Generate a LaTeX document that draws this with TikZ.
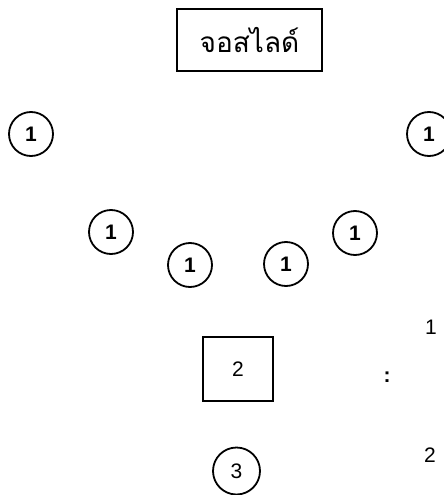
\documentclass[tikz,border=0pt]{standalone}
\usepackage{fontspec}
\setmainfont{Liberation Sans}
\newfontfamily\thaifont[Script=Thai]{Loma}
\begin{document}
\begin{tikzpicture}[x=1pt,y=-1pt,
  seat/.style={circle,draw,line width=1.8pt,minimum size=44pt,inner sep=0pt,font=\fontsize{21}{21}\selectfont\bfseries},
  lbl/.style={inner sep=0pt,font=\fontsize{21}{21}\selectfont}]
\useasboundingbox (0,0) rectangle (444,495);
\clip (0,0) rectangle (444,495);
\node[draw,line width=1.9pt,minimum width=145pt,minimum height=62pt,inner sep=0pt] (screen) at (249.5,40) {\thaifont\fontsize{28}{28}\selectfont จอสไลด์};
\node[seat] (s1) at (31,134) {1};
\node[seat] (s2) at (429,134) {1};
\node[seat] (s3) at (111,232) {1};
\node[seat] (s4) at (190,265) {1};
\node[seat] (s5) at (286,264) {1};
\node[seat] (s6) at (355,233) {1};
\node[draw,line width=1.6pt,minimum width=70pt,minimum height=64pt,inner sep=0pt,font=\fontsize{21}{21}\selectfont] (proj) at (238,369) {2};
\node[seat,minimum size=47pt,font=\fontsize{21}{21}\selectfont] (spk) at (236.5,471) {3};
\node[lbl] (k1) at (431,327) {1};
\node[lbl] (colon) at (387,377) {\bfseries :};
\node[lbl] (k2) at (430,455) {2};
\end{tikzpicture}
\end{document}
